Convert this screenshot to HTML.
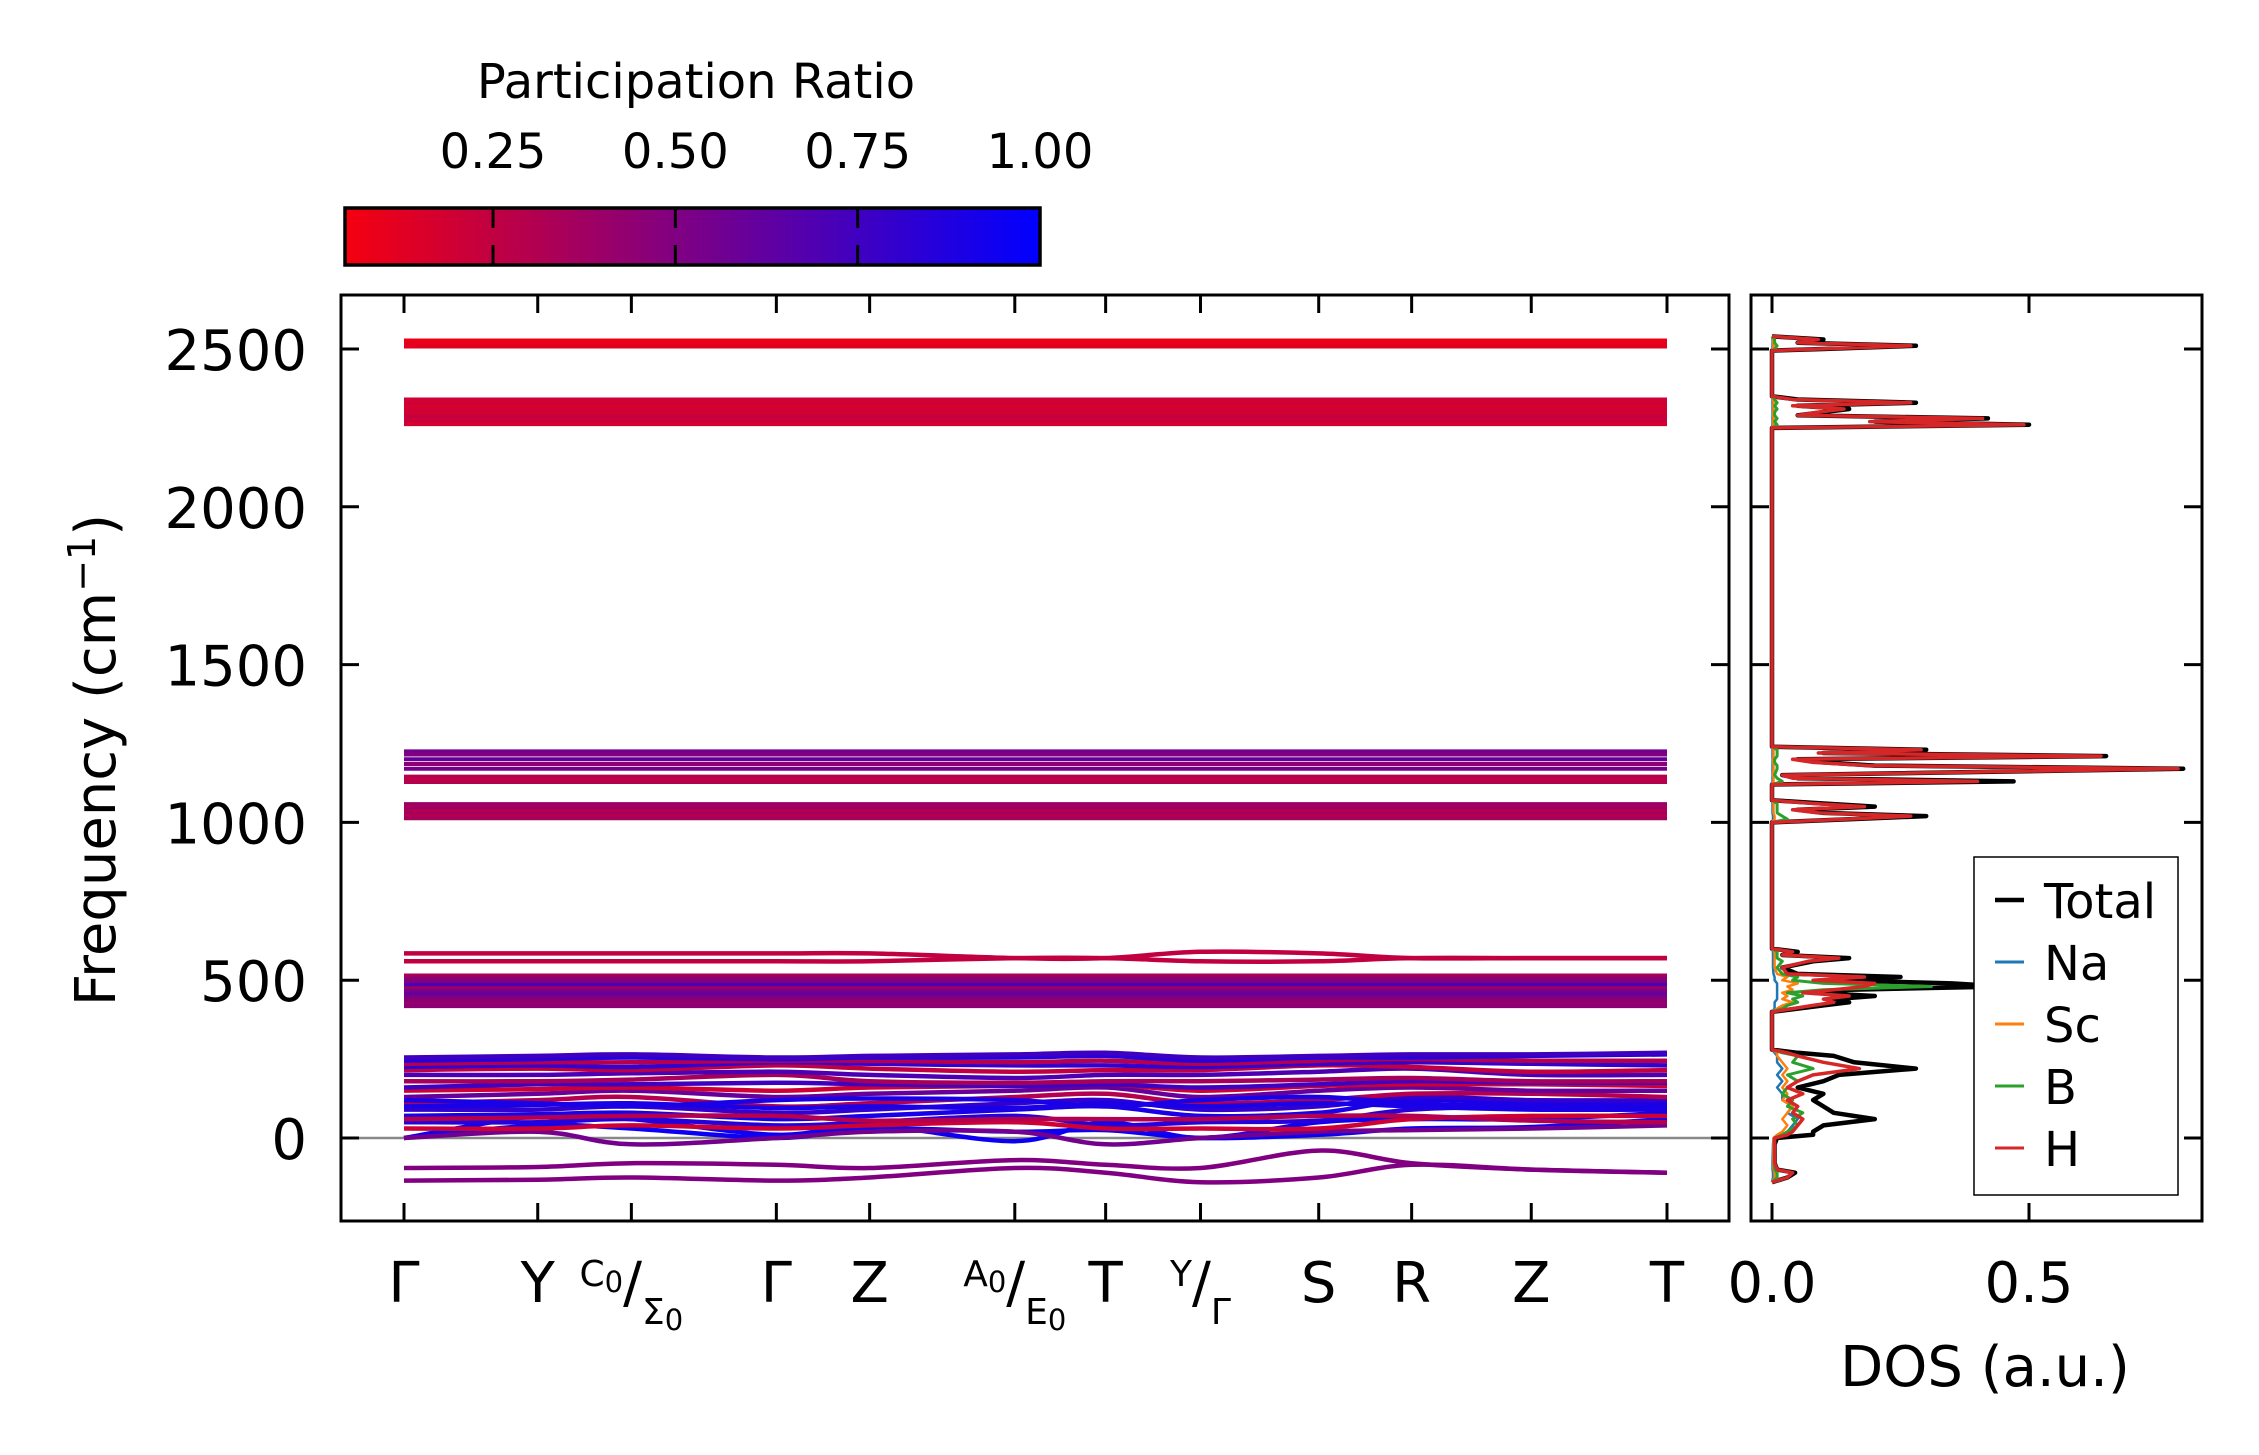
<!DOCTYPE html>
<html><head><meta charset="utf-8"><style>
html,body{margin:0;padding:0;background:#fff;}
svg{display:block;font-family:"DejaVu Sans","Liberation Sans",sans-serif;}
</style></head><body>
<svg id="chart" width="2259" height="1455" viewBox="0 0 2259 1455" xmlns="http://www.w3.org/2000/svg">
<defs>
<linearGradient id="cmap" x1="0" x2="1" y1="0" y2="0">
<stop offset="0" stop-color="rgb(245,0,15)"/><stop offset="1" stop-color="rgb(0,0,255)"/>
</linearGradient>
<clipPath id="clipMain"><rect x="341" y="295" width="1388" height="926"/></clipPath>
<clipPath id="clipDos"><rect x="1751" y="295" width="451" height="926"/></clipPath>
</defs>
<g id="bands" clip-path="url(#clipMain)"></g>
<g id="dos" clip-path="url(#clipDos)"></g>
<g id="axes"></g>
</svg>
<script>
// ---- data ----
const kLabels = ["Γ","Y","C0/Σ0","Γ","Z","A0/E0","T","Y/Γ","S","R","Z","T"];
const kPos = [0,0.1534,0.2608,0.4271,0.5341,0.7006,0.8048,0.9136,1.0492,1.1558,1.2930,1.4487];
const yTicks = [0,500,1000,1500,2000,2500];
const prTicks = [0.25,0.50,0.75,1.00];
const flatLevels = [2527,2518,2508,2340,2332,2324,2316,2308,2300,2292,2284,2276,2268,2262,1225,1215,1200,1185,1170,1145,1135,1128,1058,1050,1042,1035,1028,1020,1013,515,505,495,485,475,465,455,445,435,425,418];
const flatPR = [0.08,0.1,0.12,0.2,0.18,0.22,0.15,0.2,0.18,0.2,0.25,0.2,0.22,0.18,0.55,0.5,0.6,0.45,0.55,0.3,0.25,0.3,0.4,0.35,0.4,0.3,0.35,0.3,0.35,0.35,0.45,0.5,0.7,0.4,0.55,0.6,0.5,0.45,0.4,0.45];
const curvyBands = [
[585,585,585,585,585,570,570,590,585,570,570,570],
[560,560,560,560,560,570,570,560,560,570,570,570],
[0,40,30,0,30,20,25,0,10,30,35,60],
[0,70,60,10,40,-10,50,0,50,60,60,80],
[0,20,-20,0,20,20,-20,0,20,25,30,40],
[50,50,60,40,50,70,40,50,55,90,100,100],
[70,75,80,60,70,90,100,70,80,120,110,110],
[90,90,100,80,90,110,120,90,100,130,120,120],
[110,120,130,100,110,130,140,110,120,140,140,130],
[130,140,150,130,140,150,160,130,150,160,150,150],
[150,155,160,150,160,165,170,150,165,170,170,165],
[160,170,170,175,170,165,170,160,170,180,175,175],
[180,180,185,200,180,175,180,180,185,190,180,180],
[200,200,205,210,200,190,200,200,210,220,200,200],
[215,220,215,230,220,210,215,215,230,225,210,215],
[225,230,225,240,235,230,230,225,235,240,235,230],
[235,240,240,245,245,240,245,235,245,250,245,245],
[245,250,255,250,255,255,260,245,255,255,260,265],
[255,260,265,255,260,265,270,255,260,265,265,270],
[30,30,40,30,40,50,30,30,30,60,70,70],
[100,105,110,95,100,95,110,100,110,100,90,90],
[120,110,100,120,125,120,100,120,130,110,100,95],
[60,65,70,70,55,60,60,60,70,70,55,50],
[-95,-92,-80,-85,-95,-70,-85,-95,-40,-80,-100,-110],
[-135,-132,-125,-135,-125,-95,-110,-140,-125,-85,-100,-110]
];
const curvyPR = [0.25,0.25,0.95,0.95,0.55,0.85,0.9,0.8,0.3,0.6,0.2,0.75,0.35,0.7,0.25,0.8,0.3,0.85,0.75,0.2,0.9,0.9,0.3,0.5,0.5];
const dosFreq = [-140,-125,-110,-100,-80,-20,0,10,20,40,60,80,100,120,140,160,180,200,220,240,260,270,280,400,410,420,430,440,450,460,470,480,490,500,510,520,540,560,570,580,590,600,1000,1010,1020,1030,1040,1050,1060,1070,1120,1130,1140,1150,1170,1180,1190,1200,1210,1220,1230,1240,2250,2260,2270,2280,2290,2300,2310,2320,2330,2340,2350,2495,2500,2510,2520,2530,2540];
const dosTotal = [0,0.03,0.045,0.01,0.005,0.005,0.01,0.08,0.08,0.1,0.2,0.12,0.1,0.08,0.1,0.05,0.1,0.13,0.28,0.16,0.12,0.05,0,0,0.05,0.1,0.15,0.12,0.2,0.08,0.15,0.45,0.35,0.12,0.25,0.05,0.02,0.08,0.15,0.02,0.05,0,0,0.15,0.3,0.1,0.05,0.2,0.1,0,0,0.47,0.05,0.02,0.8,0.2,0.1,0.05,0.65,0.1,0.3,0,0,0.5,0.2,0.42,0.05,0.1,0.15,0.05,0.28,0.05,0,0,0.1,0.28,0.05,0.1,0];
const dosH = [0,0.03,0.04,0.01,0.005,0.005,0.005,0.03,0.04,0.05,0.06,0.04,0.05,0.03,0.06,0.03,0.05,0.08,0.17,0.1,0.05,0.03,0,0,0.04,0.08,0.12,0.1,0.15,0.06,0.12,0.18,0.2,0.08,0.18,0.03,0.02,0.07,0.13,0.02,0.04,0,0,0.14,0.27,0.09,0.04,0.18,0.08,0,0,0.4,0.04,0.02,0.79,0.19,0.08,0.04,0.64,0.09,0.29,0,0,0.49,0.19,0.41,0.05,0.09,0.14,0.04,0.27,0.04,0,0,0.09,0.27,0.05,0.09,0];
const dosB = [0,0.01,0.01,0.005,0.005,0.005,0.005,0.02,0.03,0.05,0.04,0.06,0.03,0.04,0.02,0.03,0.05,0.03,0.08,0.04,0.05,0.02,0,0,0.02,0.03,0.05,0.04,0.06,0.03,0.1,0.31,0.1,0.04,0.05,0.02,0.01,0.02,0.01,0.01,0.01,0,0,0.03,0.02,0.01,0.01,0.01,0.01,0,0,0.02,0.01,0.005,0.01,0.01,0.005,0.005,0.01,0.01,0.01,0,0,0.01,0.005,0.01,0.005,0.005,0.01,0.005,0.01,0.005,0,0,0.005,0.01,0.005,0.005,0];
const dosSc = [0,0.005,0.005,0.003,0.003,0.003,0.003,0.01,0.02,0.03,0.02,0.03,0.04,0.02,0.03,0.02,0.03,0.02,0.03,0.02,0.01,0.01,0,0,0.01,0.02,0.04,0.02,0.03,0.02,0.04,0.03,0.05,0.02,0.03,0.01,0.005,0.005,0.005,0.005,0.005,0,0,0.005,0.005,0.003,0.003,0.003,0.003,0,0,0.003,0.003,0.002,0.003,0.003,0.002,0.002,0.003,0.003,0.003,0,0,0.003,0.002,0.003,0.002,0.002,0.003,0.002,0.003,0.002,0,0,0.002,0.003,0.002,0.002,0];
const dosNa = [0,0.002,0.002,0.001,0.001,0.002,0.003,0.02,0.03,0.04,0.05,0.03,0.04,0.02,0.02,0.01,0.02,0.01,0.02,0.01,0.01,0.005,0,0,0.005,0.005,0.005,0.01,0.01,0.01,0.01,0.01,0.01,0.005,0.005,0.003,0.002,0.002,0.002,0.002,0.002,0,0,0.002,0.002,0.001,0.001,0.001,0.001,0,0,0.001,0.001,0.001,0.001,0.001,0.001,0.001,0.001,0.001,0.001,0,0,0.001,0.001,0.001,0.001,0.001,0.001,0.001,0.001,0.001,0,0,0.001,0.001,0.001,0.001,0];
const legendNames = ["Total","Na","Sc","B","H"];
const legendColors = ["#000000","#1f77b4","#ff7f0e","#2ca02c","#d62728"];

// ---- scales ----
const NS="http://www.w3.org/2000/svg";
const Y0=1138, PXU=157.8/500;
const yS = f => Y0 - f*PXU;
const xK = k => 404 + (k/1.4487)*(1667-404);
const xD = v => 1772 + v*514;
const prColor = p => { const t=Math.max(0,Math.min(1,(p-0.047)/(1-0.047))); return `rgb(${Math.round(245*(1-t))},0,${Math.round(15+240*t)})`; };
function el(tag, attrs, parent){ const e=document.createElementNS(NS,tag); for(const k in attrs) e.setAttribute(k,attrs[k]); if(parent) parent.appendChild(e); return e; }
function smooth(pts){
  let d=`M${pts[0][0]},${pts[0][1]}`;
  for(let i=0;i<pts.length-1;i++){
    const p0=pts[Math.max(0,i-1)],p1=pts[i],p2=pts[i+1],p3=pts[Math.min(pts.length-1,i+2)];
    const c1=[p1[0]+(p2[0]-p0[0])/6,p1[1]+(p2[1]-p0[1])/6], c2=[p2[0]-(p3[0]-p1[0])/6,p2[1]-(p3[1]-p1[1])/6];
    d+=` C${c1[0].toFixed(1)},${c1[1].toFixed(1)} ${c2[0].toFixed(1)},${c2[1].toFixed(1)} ${p2[0].toFixed(1)},${p2[1].toFixed(1)}`;
  }
  return d;
}
const gB=document.getElementById('bands'), gD=document.getElementById('dos'), gA=document.getElementById('axes');

const zl=el('line',{x1:341,x2:1729,y1:yS(0),y2:yS(0),stroke:'#888',"stroke-width":2.5},gB);



flatLevels.forEach((f,i)=>{
  const l=el('line',{x1:xK(kPos[0]),x2:xK(kPos[kPos.length-1]),y1:yS(f),y2:yS(f),stroke:prColor(flatPR[i]),"stroke-width":4},gB);
  
  
});
curvyBands.forEach((b,i)=>{
  const pts=b.map((f,j)=>[xK(kPos[j]),yS(f)]);
  const p=el('path',{d:smooth(pts),fill:'none',stroke:prColor(curvyPR[i]),"stroke-width":4.5},gB);
  
  
});

[[dosTotal,'#000',4.5,'dos-total'],[dosNa,'#1f77b4',2.5,'dos-na'],[dosSc,'#ff7f0e',2.5,'dos-sc'],[dosB,'#2ca02c',3,'dos-b'],[dosH,'#d62728',3.5,'dos-h']].forEach(s=>{
  const d=s[0].map((v,i)=>(i?'L':'M')+xD(v).toFixed(1)+','+yS(dosFreq[i]).toFixed(1)).join(' ');
  const p=el('path',{d:d,fill:'none',stroke:s[1],"stroke-width":s[2],"stroke-linejoin":"round"},gD);
  
  
});

const f1=el('rect',{x:341,y:295,width:1388,height:926,fill:'none',stroke:'#000',"stroke-width":3},gA);


const f2=el('rect',{x:1751,y:295,width:451,height:926,fill:'none',stroke:'#000',"stroke-width":3},gA);



yTicks.forEach(v=>{
  const y=yS(v);
  [[341,359],[1711,1729],[1751,1769],[2184,2202]].forEach(s=>{
    const t=el('line',{x1:s[0],x2:s[1],y1:y,y2:y,stroke:'#000',"stroke-width":3},gA);
    
    
  });
  const tx=el('text',{x:307,y:y+21,"text-anchor":"end","font-size":56},gA);
  tx.textContent=String(v);
  
  
});
function addPart(parent, str, size, dy){
  // str like "C0" -> letter + smaller subscript digit
  const letter=str.replace(/0$/,''), hasSub=str.endsWith('0');
  const t1=el('tspan',{"font-size":size,dy:dy},parent); t1.textContent=letter;
  if(hasSub){
    const t2=el('tspan',{"font-size":Math.round(size*0.8),dy:6},parent); t2.textContent='0';
    return -6;
  }
  return 0;
}
kPos.forEach((k,i)=>{
  const x=xK(k);
  [[1203,1221],[295,313]].forEach(s=>{
    const t=el('line',{x1:x,x2:x,y1:s[0],y2:s[1],stroke:'#000',"stroke-width":3},gA);
    
    
  });
  const lab=kLabels[i];
  const tx=el('text',{x:x,y:1302,"text-anchor":"middle","font-size":56},gA);
  
  
  if(lab.includes('/')){
    const [a,b]=lab.split('/');
    let r=addPart(tx,a,36,-16);
    const t2=el('tspan',{"font-size":56,dy:16+r},tx); t2.textContent='/';
    addPart(tx,b,36,22);
  } else tx.textContent=lab;
});
[0,0.5].forEach(v=>{
  const x=xD(v);
  [[1203,1221],[295,313]].forEach(s=>{
    const t=el('line',{x1:x,x2:x,y1:s[0],y2:s[1],stroke:'#000',"stroke-width":3},gA);
    
    
  });
  const tx=el('text',{x:x,y:1302,"text-anchor":"middle","font-size":56},gA);
  tx.textContent=v.toFixed(1);
  
  
});
const yt=el('text',{x:0,y:0,"text-anchor":"middle","font-size":56,transform:"translate(115,760) rotate(-90)"},gA);
yt.innerHTML='Frequency (cm<tspan font-size="38" dy="-20">−1</tspan><tspan dy="20">)</tspan>';


const dt=el('text',{x:1985,y:1386,"text-anchor":"middle","font-size":56},gA);
dt.textContent='DOS (a.u.)';



const lg=el('g',{},gA);


el('rect',{x:1974,y:857,width:204,height:338,fill:'#fff',stroke:'#000',"stroke-width":1.5},lg);
legendNames.forEach((n,i)=>{
  const y=900+i*62;
  const ln=el('line',{x1:1995,x2:2024,y1:y,y2:y,stroke:legendColors[i],"stroke-width":i?3:4.5},lg);
  
  
  const t=el('text',{x:2044,y:y+18,"font-size":48},lg);
  t.textContent=n;
  
  
});

const cbx0=345, cbx1=1040, cbpr0=0.047;
const cb=el('rect',{x:cbx0,y:208,width:cbx1-cbx0,height:57,fill:'url(#cmap)',stroke:'#000',"stroke-width":3.5},gA);


const cbX = p => cbx0 + (p-cbpr0)/(1-cbpr0)*(cbx1-cbx0);
prTicks.forEach(p=>{
  const x=cbX(p);
  if(p<1){
    el('line',{x1:x,x2:x,y1:208,y2:228,stroke:'#000',"stroke-width":3},gA);
    el('line',{x1:x,x2:x,y1:245,y2:265,stroke:'#000',"stroke-width":3},gA);
  }
  const t=el('text',{x:x,y:168,"text-anchor":"middle","font-size":48},gA);
  t.textContent=p.toFixed(2);
  
  
});
const ct=el('text',{x:696,y:98,"text-anchor":"middle","font-size":48},gA);
ct.textContent='Participation Ratio';


</script>
</body></html>
